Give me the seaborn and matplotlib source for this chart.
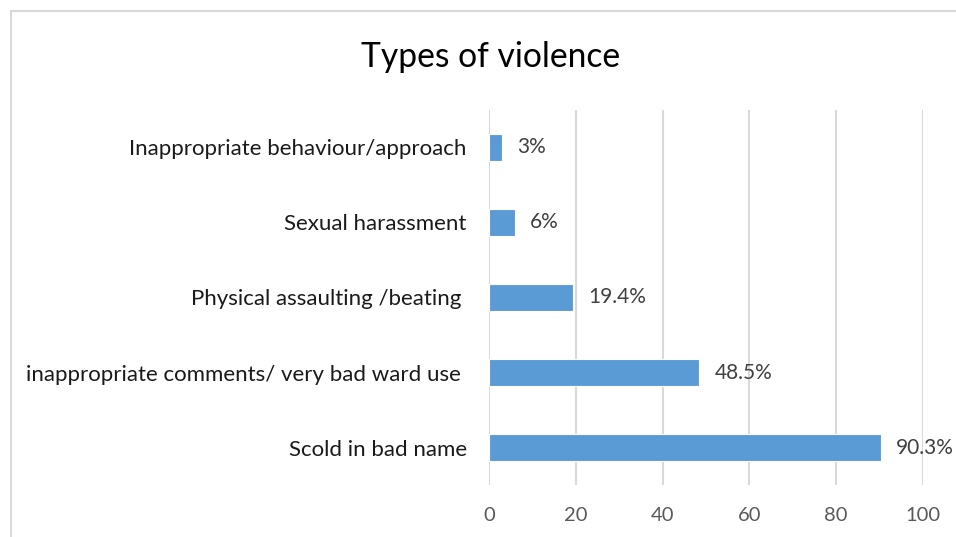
import matplotlib
matplotlib.use("Agg")
import matplotlib.pyplot as plt
import seaborn as sns
import pandas as pd
from matplotlib.patches import Rectangle

categories = ["Inappropriate behaviour/approach", "Sexual harassment",
              "Physical assaulting /beating ", "inappropriate comments/ very bad ward use ",
              "Scold in bad name"]
values = [3, 6, 19.4, 48.5, 90.3]
value_labels = ["3%", "6%", "19.4%", "48.5%", "90.3%"]
x_ticks = [0, 20, 40, 60, 80, 100]

sns.set_theme(style="white")
plt.rcParams['font.family'] = ['Lato', 'DejaVu Sans']

df = pd.DataFrame({"category": categories, "value": values})

fig = plt.figure(figsize=(9.56, 5.37), dpi=100)
ax = fig.add_axes([0.5115, 0.0968, 0.4540, 0.6984])

sns.barplot(data=df, x="value", y="category", color="#5B9BD5", width=0.36,
            edgecolor="white", linewidth=0.8, saturation=1, ax=ax, zorder=3)

ax.set_xlim(0, 100)
ax.set_ylim(4.5, -0.5)
ax.set_xticks(x_ticks)
ax.set_xticklabels([str(t) for t in x_ticks], fontsize=14.5, color="#595959")
ax.tick_params(axis="x", length=0, pad=16)
ax.tick_params(axis="y", length=0, pad=16, labelsize=16, labelcolor="#1a1a1a")
ax.set_xlabel("")
ax.set_ylabel("")
for s in ax.spines.values():
    s.set_visible(False)
ax.xaxis.grid(True, color="#D9D9D9", linewidth=1.5, zorder=0)
ax.set_axisbelow(True)

for i, (v, lab) in enumerate(zip(values, value_labels)):
    ax.annotate(lab, xy=(v, i), xytext=(11, 0), textcoords="offset points",
                va="center", ha="left", fontsize=15, color="#404040")

fig.text(491 / 956, 0.893, "Types of violence", fontsize=24.2, color="black",
         ha="center", va="center")

fig.patches.append(Rectangle((11 / 956, -0.1), 1.1, 1 - 11 / 537 + 0.1,
                             transform=fig.transFigure, fill=False,
                             edgecolor="#D9D9D9", linewidth=1.5))

fig.savefig("out.png", dpi=100)
